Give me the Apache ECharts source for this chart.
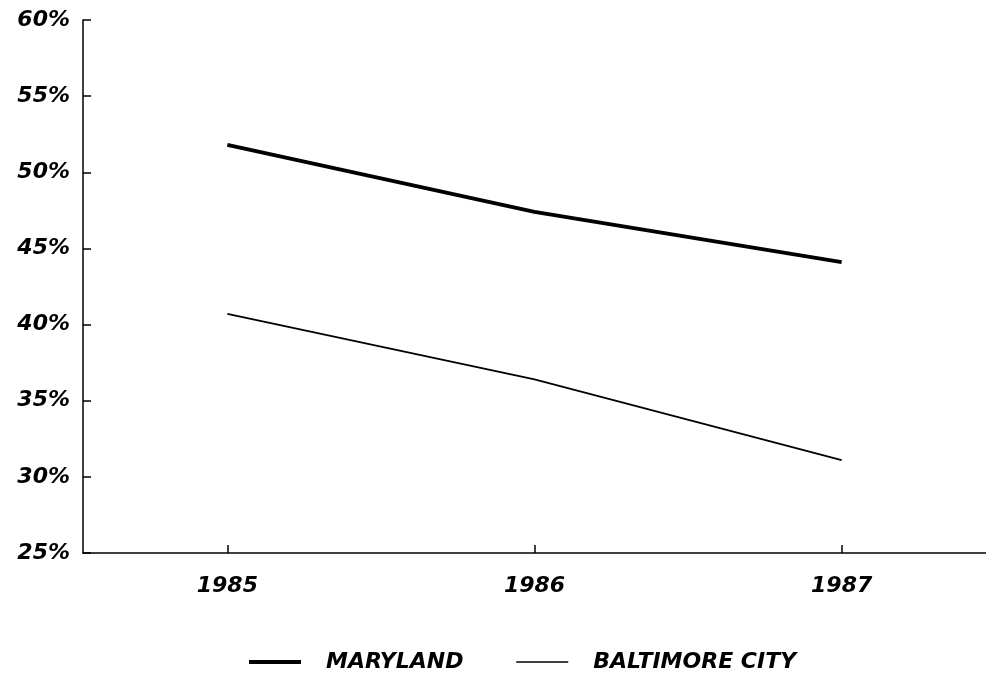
<!DOCTYPE html>
<html>
<head>
<meta charset="utf-8">
<title>Maryland vs Baltimore City</title>
<script src="https://cdn.jsdelivr.net/npm/echarts@6/dist/echarts.min.js"></script>
<style>
  html, body { margin: 0; padding: 0; background: #fff; }
  #main { width: 986px; height: 674px; }
</style>
</head>
<body>
<div id="main"></div>
<script>
// 数据
var years = [1985, 1986, 1987];
var maryland = [51.8, 47.4, 44.1];
var baltimoreCity = [40.7, 36.4, 31.1];
var yTicks = [25, 30, 35, 40, 45, 50, 55, 60];

function pairs(vals) {
  return years.map(function (y, i) { return [y, vals[i]]; });
}

var font = { fontFamily: 'DejaVu Sans', fontWeight: 'bold', fontStyle: 'italic', fontSize: 22, color: '#000' };

var option = {
  animation: false,
  backgroundColor: '#fff',
  grid: { left: 83, right: 0, top: 20, bottom: 121 },
  legend: {
    left: 242,
    top: 646,
    itemWidth: 52,
    itemHeight: 14,
    itemGap: 52,
    textStyle: Object.assign({}, font, { padding: [0, 0, 0, 20] }),
    data: [
      { name: 'MARYLAND', itemStyle: { opacity: 0 }, lineStyle: { width: 4, color: '#000' } },
      { name: 'BALTIMORE CITY', itemStyle: { opacity: 0 }, lineStyle: { width: 1.5, color: '#000' } }
    ]
  },
  xAxis: {
    type: 'value',
    min: 1984.53,
    max: 1987.47,
    splitLine: { show: false },
    axisLine: { lineStyle: { color: '#000', width: 1.5 } },
    axisTick: { inside: true, length: 8, customValues: years, lineStyle: { color: '#000', width: 1.5 } },
    axisLabel: Object.assign({}, font, { margin: 22, customValues: years, formatter: function (v) { return String(v); } })
  },
  yAxis: {
    type: 'value',
    min: 25,
    max: 60,
    interval: 5,
    splitLine: { show: false },
    axisLine: { show: true, lineStyle: { color: '#000', width: 1.5 } },
    axisTick: { inside: true, length: 8, lineStyle: { color: '#000', width: 1.5 } },
    axisLabel: Object.assign({}, font, { margin: 13, formatter: function (v) { return yTicks.indexOf(v) >= 0 ? v + '%' : ''; } })
  },
  series: [
    {
      name: 'MARYLAND',
      type: 'line',
      symbol: 'none',
      lineStyle: { color: '#000', width: 4 },
      itemStyle: { color: '#000' },
      data: pairs(maryland)
    },
    {
      name: 'BALTIMORE CITY',
      type: 'line',
      symbol: 'none',
      lineStyle: { color: '#000', width: 1.8 },
      itemStyle: { color: '#000' },
      data: pairs(baltimoreCity)
    }
  ]
};

var myChart = echarts.init(document.getElementById('main'));
myChart.setOption(option);
</script>
</body>
</html>
